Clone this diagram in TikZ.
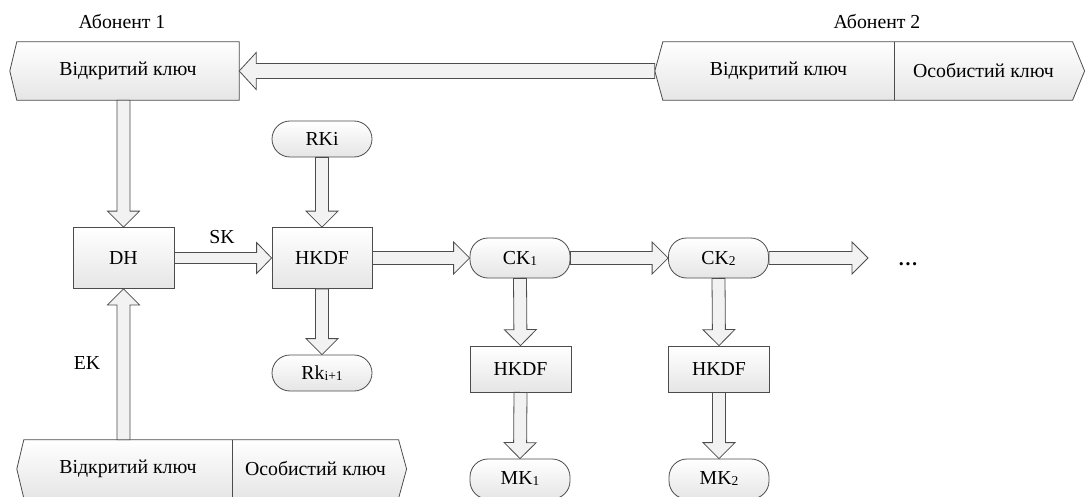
\documentclass[tikz,border=0pt]{standalone}
\usepackage{fontspec}
\setmainfont{Liberation Serif}
\usetikzlibrary{calc,backgrounds}

% hollow block arrow from #1 to #2
\newcommand\shaftw{6.5pt}
\newcommand\headw{16pt}
\newcommand\headlen{16pt}
\newcommand\fatarrow[2]{%
  \coordinate (fa-h) at ($(#2)!\headlen!(#1)$);
  \filldraw[fat] ($(#1)!\shaftw!90:(#2)$) -- ($(fa-h)!\shaftw!-90:(#1)$)
    -- ($(fa-h)!\headw!-90:(#1)$) -- (#2) -- ($(fa-h)!\headw!90:(#1)$)
    -- ($(fa-h)!\shaftw!90:(#1)$) -- ($(#1)!\shaftw!-90:(#2)$) -- cycle;}
\newcommand\lowidx[1]{\raisebox{-1pt}{\fontsize{13.5}{14}\selectfont #1}}

\begin{document}
\begin{tikzpicture}[x=1pt,y=-1pt]
   \tikzstyle{every node}=[font=\fontsize{19.8}{23}\selectfont]
   \tikzstyle{block}=[draw=gray!60!black,line width=0.8pt,top color=white,bottom color=black!10,minimum width=100pt,minimum height=61pt,inner sep=0pt]
   \tikzstyle{term}=[block,rounded corners=18pt,minimum height=38pt]
   \tikzstyle{cell}=[minimum height=58pt,inner sep=0pt]
   \tikzstyle{keyshape}=[draw=gray!60!black,line width=0.8pt,top color=white,bottom color=black!10]
   \tikzstyle{fat}=[draw=gray!60!black,line width=0.8pt,fill=black!5]
   \useasboundingbox (0,0) rectangle (1086,497);
   % subscribers
   \node (ab1) at (122,22) {Абонент 1} ;
   \node (ab2) at (877,22) {Абонент 2} ;
   \node (pub1) [cell,minimum width=222pt] at (128,71) {Відкритий ключ} ;
   \node (pub2) [cell,minimum width=231pt] at (778.5,71) {Відкритий ключ} ;
   \node (priv2) [cell,minimum width=178pt,anchor=west] at (pub2.east) {Особистий ключ} ;
   \node (pub3) [cell,minimum width=208pt] at (128,469) {Відкритий ключ} ;
   \node (priv3) [cell,minimum width=166pt,anchor=west] at (pub3.east) {Особистий ключ} ;
   \begin{scope}[on background layer]
   \path [keyshape] (pub1.north west) -- (pub1.north east) -- (pub1.south east) -- (pub1.south west) -- ([xshift=-7pt]pub1.west) -- cycle ;
   \path [keyshape] (pub2.north west) -- (priv2.north east) -- ([xshift=12pt]priv2.east) -- (priv2.south east) -- (pub2.south west) -- ([xshift=-8pt]pub2.west) -- cycle ;
   \draw [gray!60!black,line width=0.8pt] (priv2.north west) -- (priv2.south west) ;
   \path [keyshape] (pub3.north west) -- (priv3.north east) -- ([xshift=8pt]priv3.east) -- (priv3.south east) -- (pub3.south west) -- ([xshift=-7pt]pub3.west) -- cycle ;
   \draw [gray!60!black,line width=0.8pt] (priv3.north west) -- (priv3.south west) ;
   \end{scope}
   % ratchet
   \node (dh) [block,minimum width=101pt] at (123.5,258) {DH} ;
   \node (hkdf) [block] at (322,258) {HKDF} ;
   \node (rki) [term,minimum height=36pt] at (322,139) {RKi} ;
   \node (rki1) [term,minimum height=36pt] at (322,373) {Rk\lowidx{i+1}} ;
   \node (ck1) [term,minimum height=40pt] at (520,258) {CK\lowidx{1}} ;
   \node (ck2) [term,minimum height=40pt] at (718.5,258) {CK\lowidx{2}} ;
   \node (hk1) [block,minimum width=101pt,minimum height=46pt] at (520.5,369) {HKDF} ;
   \node (hk2) [block,minimum width=101pt,minimum height=46pt] at (719,369) {HKDF} ;
   \node (mk1) [term,minimum height=40pt] at (520,479) {MK\lowidx{1}} ;
   \node (mk2) [term,minimum height=40pt] at (719,479) {MK\lowidx{2}} ;
   \node (sk) at (222,237) {SK} ;
   \node (ek) at (87,363) {EK} ;
   \node (dots) at (908,264) {\bfseries …} ;
   \coordinate (pub2tip) at ([xshift=-8pt]pub2.west) ;
   \coordinate (pub1out) at (pub1.south -| dh.north) ;
   \coordinate (pub3out) at (pub3.north -| dh.south) ;
   \coordinate (more) at (868,258) ;
   {\renewcommand\shaftw{7.5pt}\renewcommand\headw{18.5pt}\renewcommand\headlen{17pt}\fatarrow{pub2tip}{pub1.east}}
   \fatarrow{pub1out}{dh.north}
   \fatarrow{pub3out}{dh.south}
   {\renewcommand\shaftw{5.5pt}\renewcommand\headw{15.5pt}\renewcommand\headlen{15pt}\fatarrow{dh.east}{hkdf.west}}
   \fatarrow{rki.south}{hkdf.north}
   \fatarrow{hkdf.south}{rki1.north}
   \fatarrow{hkdf.east}{ck1.west}
   \fatarrow{ck1.east}{ck2.west}
   \fatarrow{ck2.east}{more}
   \fatarrow{ck1.south}{hk1.north}
   \fatarrow{hk1.south}{mk1.north}
   \fatarrow{ck2.south}{hk2.north}
   \fatarrow{hk2.south}{mk2.north}
\end{tikzpicture}
\end{document}
